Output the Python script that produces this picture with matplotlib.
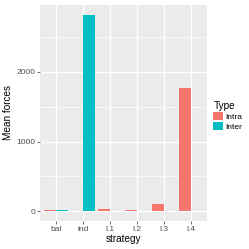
import numpy as np
import matplotlib
matplotlib.use("Agg")
import matplotlib.pyplot as plt

strategies = ["bal", "ind", "l.1", "l.2", "l.3", "l.4"]
intra = [12, 2, 30, 15, 100, 1765]
inter = [12, 2820, 3, 3, 3, 3]
types = ["Intra", "Inter"]
colors = ["#F8766D", "#00BFC4"]

plt.rcParams["font.family"] = ["Liberation Sans", "DejaVu Sans"]

fig = plt.figure(figsize=(2.49, 2.49), dpi=100)
ax = fig.add_axes([40 / 249, 28 / 249, 167 / 249, 216 / 249])
ax.set_facecolor("#EBEBEB")

x = np.arange(1, len(strategies) + 1)
w = 0.45
ax.bar(x - w / 2, intra, width=w, color=colors[0], label=types[0], zorder=3)
ax.bar(x + w / 2, inter, width=w, color=colors[1], label=types[1], zorder=3)

top = max(max(intra), max(inter))
ax.set_ylim(-0.05 * top, 1.05 * top)
ax.set_xlim(0.4, len(strategies) + 0.6)

ax.set_xticks(x)
ax.set_xticklabels(strategies)
ax.set_yticks([0, 1000, 2000])
ax.set_yticks([500, 1500, 2500], minor=True)
ax.grid(which="major", color="white", linewidth=1.0, zorder=0)
ax.grid(which="minor", axis="y", color="white", linewidth=0.5, zorder=0)
ax.set_axisbelow(True)
ax.tick_params(which="major", length=2, width=0.5, color="#333333",
               labelsize=6, labelcolor="#4D4D4D", pad=1.5)
ax.tick_params(which="minor", length=0)
for s in ax.spines.values():
    s.set_visible(False)

ax.set_xlabel("strategy", fontsize=7.2, labelpad=1)
ax.set_ylabel("Mean forces", fontsize=7.2, labelpad=2)

leg = fig.legend(loc="center left", bbox_to_anchor=(210 / 249, 0.535), frameon=False,
                 title="Type", fontsize=6, title_fontsize=7.2,
                 handlelength=1.2, handleheight=1.2, handletextpad=0.25,
                 labelspacing=0.1, borderaxespad=0)
leg._legend_box.align = "left"

fig.savefig("out.png", dpi=100)
